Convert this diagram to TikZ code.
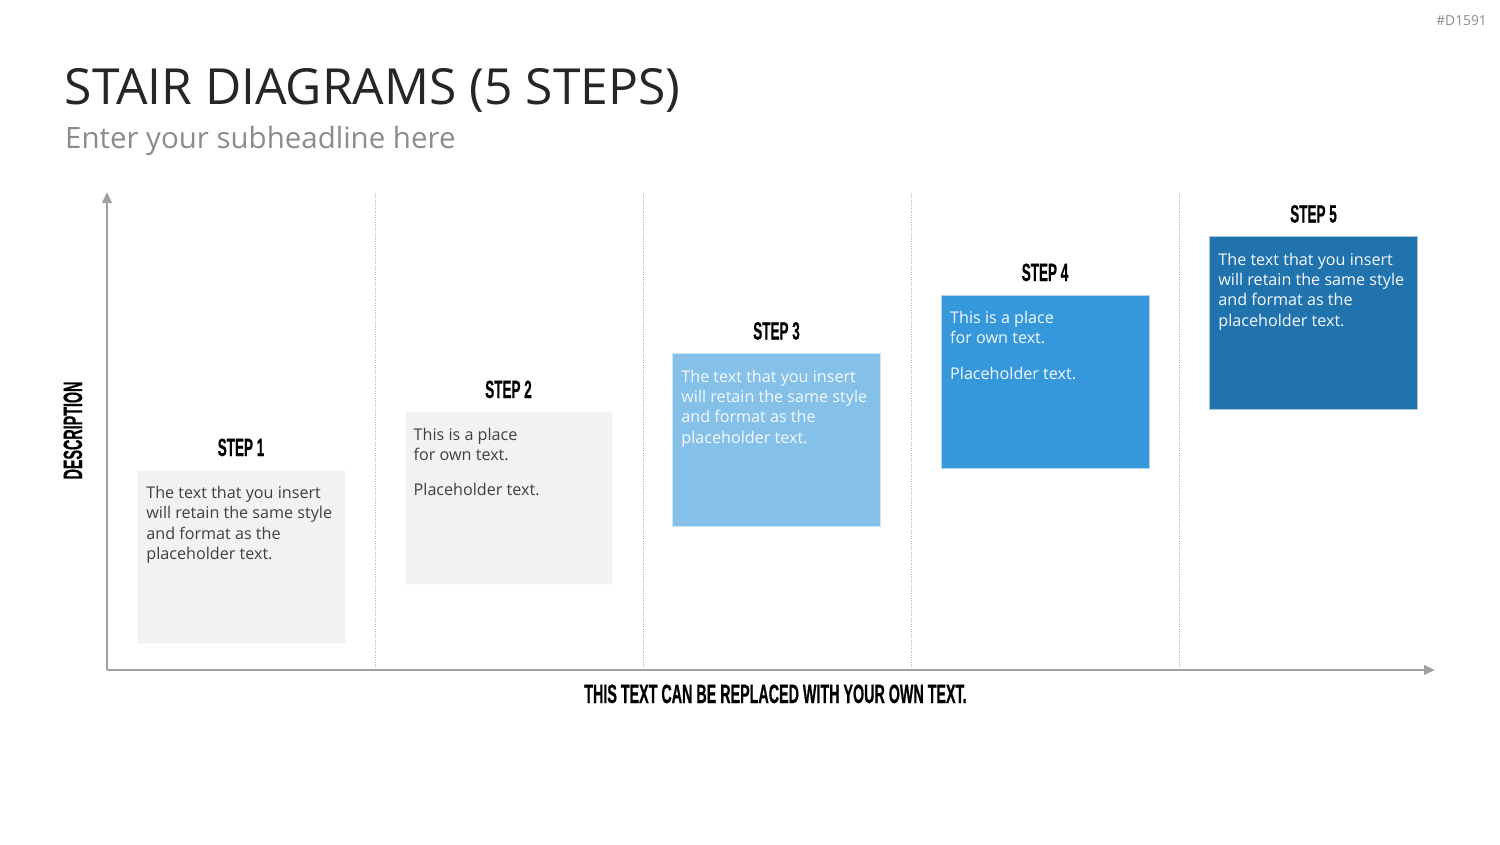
\documentclass[tikz,border=0pt]{standalone}
\usepackage{fontspec}
\setmainfont{Open Sans}
\newfontfamily\bebas{Liberation Sans}[FakeStretch=0.54,FakeBold=0.5]
\usetikzlibrary{arrows.meta}
\definecolor{titlecol}{HTML}{262626}
\definecolor{subcol}{HTML}{8C8C8C}
\definecolor{axiscol}{HTML}{A0A0A0}
\definecolor{dotcol}{HTML}{B4B4B4}
\definecolor{boxgray}{HTML}{F2F2F2}
\definecolor{boxlight}{HTML}{85C0E9}
\definecolor{boxmid}{HTML}{3598DB}
\definecolor{boxdark}{HTML}{2173AD}
\definecolor{darktext}{HTML}{404040}
\definecolor{lighttext}{HTML}{F4F9FD}
\tikzset{
  stepbox/.style={rectangle, draw=white!60!#1, line width=0.5pt, fill=#1, minimum width=207.5pt, minimum height=173pt, inner sep=0pt, anchor=north west},
  boxtext/.style={anchor=north west, inner sep=0pt, align=left, font=\fontsize{16.15}{20.4}\selectfont},
  steplabel/.style={anchor=base, inner sep=0pt, font=\bebas\bfseries\fontsize{25}{25}\selectfont, text=black},
  biglabel/.style={anchor=base, inner sep=0pt, font=\bebas\bfseries\fontsize{26.5}{26.5}\selectfont, text=black},
  axisline/.style={draw=axiscol, line width=2.2pt, -{Triangle[length=11pt,width=9.5pt]}},
  gridline/.style={draw=dotcol, line width=1pt, dash pattern=on 1pt off 1.2pt}
}
\begin{document}
\begin{tikzpicture}[x=1pt,y=-1pt]
\useasboundingbox (0,0) rectangle (1500,844);
% header
\node[anchor=base east, inner sep=0pt, text=subcol, font=\fontsize{13.8}{13.8}\selectfont] (code) at (1487,25) {\#D1591};
\node[anchor=base west, inner sep=0pt, text=titlecol, font=\fontsize{49.8}{49.8}\selectfont] (title) at (64.5,104) {STAIR DIAGRAMS (5 STEPS)};
\node[anchor=base west, inner sep=0pt, text=subcol, font=\fontsize{29.45}{29.45}\selectfont] (subtitle) at (65,148) {Enter your subheadline here};
% grid lines
\coordinate (g1t) at (375,193); \coordinate (g1b) at (375,668);
\coordinate (g2t) at (643,193); \coordinate (g2b) at (643,668);
\coordinate (g3t) at (911,193); \coordinate (g3b) at (911,668);
\coordinate (g4t) at (1179,193); \coordinate (g4b) at (1179,668);
\draw[gridline] (g1t) -- (g1b);
\draw[gridline] (g2t) -- (g2b);
\draw[gridline] (g3t) -- (g3b);
\draw[gridline] (g4t) -- (g4b);
% axes
\coordinate (origin) at (107,670);
\coordinate (ytip) at (107,192);
\coordinate (xtip) at (1435,670);
\draw[axisline] (origin) -- (ytip);
\draw[axisline] (origin) -- (xtip);
\node[biglabel, rotate=90] (ylabel) at (82,430.5) {DESCRIPTION};
\node[biglabel] (xlabel) at (775.5,703) {THIS TEXT CAN BE REPLACED WITH YOUR OWN TEXT.};
% boxes
\node[stepbox=boxgray] (box1) at (137.2,469.5) {};
\node[stepbox=boxgray] (box2) at (404.5,411) {};
\node[stepbox=boxlight] (box3) at (672.2,353) {};
\node[stepbox=boxmid] (box4) at (941,294.5) {};
\node[stepbox=boxdark] (box5) at (1209.2,236) {};
% labels
\node[steplabel] (lab1) at (241,456) {STEP 1};
\node[steplabel] (lab2) at (508.5,398) {STEP 2};
\node[steplabel] (lab3) at (776.5,339.5) {STEP 3};
\node[steplabel] (lab4) at (1045,281) {STEP 4};
\node[steplabel] (lab5) at (1313.5,222.5) {STEP 5};
% texts
\node[boxtext, text=darktext] (txt1) at ([shift={(9,16.6)}]box1.north west) {The text that you insert\\will retain the same style\\and format as the\\placeholder text.};
\node[boxtext, text=darktext] (txt2) at ([shift={(9,16.6)}]box2.north west) {This is a place\\for own text.\\[15pt]Placeholder text.};
\node[boxtext, text=lighttext] (txt3) at ([shift={(9,16.6)}]box3.north west) {The text that you insert\\will retain the same style\\and format as the\\placeholder text.};
\node[boxtext, text=lighttext] (txt4) at ([shift={(9,16.6)}]box4.north west) {This is a place\\for own text.\\[15pt]Placeholder text.};
\node[boxtext, text=lighttext] (txt5) at ([shift={(9,16.6)}]box5.north west) {The text that you insert\\will retain the same style\\and format as the\\placeholder text.};
\end{tikzpicture}
\end{document}
